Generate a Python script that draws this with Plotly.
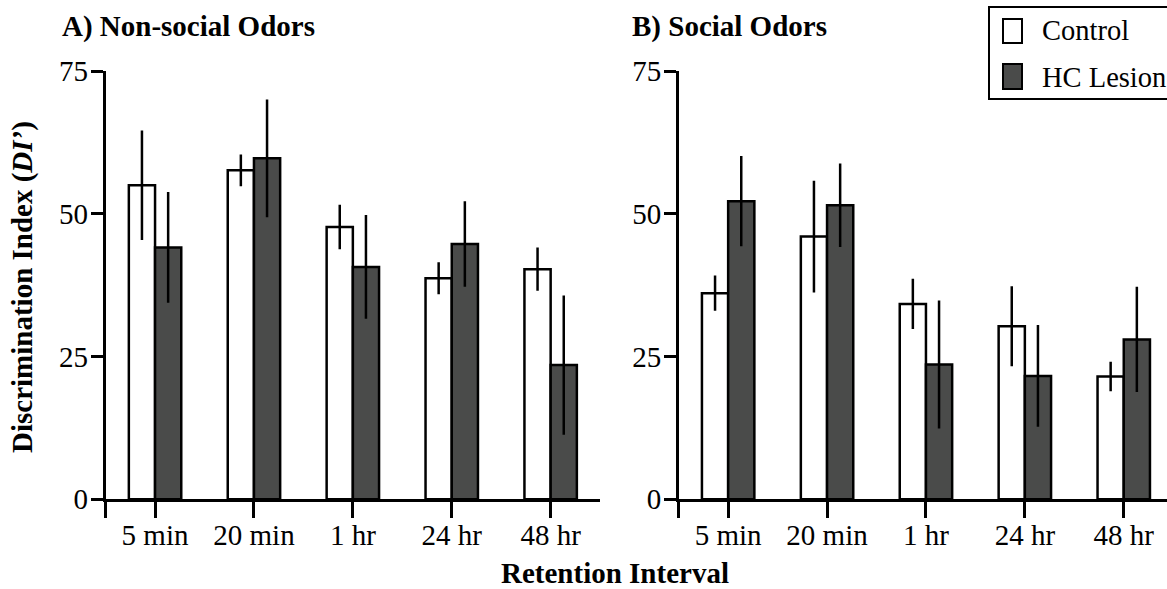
import plotly.graph_objects as go

# Retention intervals tested
intervals = ["5 min", "20 min", "1 hr", "24 hr", "48 hr"]

# Panel A: non-social odors (mean DI' and SEM)
nonsocial_control = [55.0, 57.6, 47.7, 38.7, 40.3]
nonsocial_control_err = [9.6, 2.8, 3.9, 2.8, 3.8]
nonsocial_lesion = [44.1, 59.7, 40.7, 44.7, 23.5]
nonsocial_lesion_err = [9.7, 10.3, 9.1, 7.5, 12.2]

# Panel B: social odors (mean DI' and SEM)
social_control = [36.1, 46.0, 34.2, 30.3, 21.5]
social_control_err = [3.1, 9.8, 4.4, 7.0, 2.6]
social_lesion = [52.2, 51.5, 23.6, 21.6, 28.0]
social_lesion_err = [7.9, 7.3, 11.2, 8.9, 9.2]

y_ticks = [0, 25, 50, 75]

W, H = 1167, 589
FONT = "Liberation Serif, Times New Roman, serif"
LESION_COLOR = "#4a4b4a"
LW = 2.5


def px(x):
    return x / W


def py(y):
    return 1 - y / H


xpos = list(range(len(intervals)))

fig = go.Figure()


def add_panel(control, control_err, lesion, lesion_err, xa, ya):
    fig.add_trace(go.Bar(
        x=xpos, y=control, name="Control", xaxis=xa, yaxis=ya,
        marker=dict(color="white", line=dict(color="black", width=LW)),
        error_y=dict(type="data", array=control_err, color="black",
                     thickness=LW, width=0),
        showlegend=False,
    ))
    fig.add_trace(go.Bar(
        x=xpos, y=lesion, name="HC Lesion", xaxis=xa, yaxis=ya,
        marker=dict(color=LESION_COLOR, line=dict(color="black", width=LW)),
        error_y=dict(type="data", array=lesion_err, color="black",
                     thickness=LW, width=0),
        showlegend=False,
    ))


add_panel(nonsocial_control, nonsocial_control_err,
          nonsocial_lesion, nonsocial_lesion_err, "x", "y")
add_panel(social_control, social_control_err,
          social_lesion, social_lesion_err, "x2", "y2")

tick_font = dict(family=FONT, size=29, color="black")
x_common = dict(
    tickvals=[-0.5] + xpos, ticktext=[""] + intervals,
    showline=True, linewidth=LW, linecolor="black",
    ticks="outside", ticklen=16, tickwidth=LW, tickcolor="black",
    ticklabelstandoff=-8,
    showgrid=False, zeroline=False, tickfont=tick_font, fixedrange=True,
    automargin=False,
)
y_common = dict(
    range=[0, 75], tickvals=y_ticks,
    showline=True, linewidth=LW, linecolor="black",
    ticks="outside", ticklen=12, tickwidth=LW, tickcolor="black",
    ticklabelstandoff=-3,
    showgrid=False, zeroline=False, tickfont=tick_font, fixedrange=True,
    domain=[py(499.3), py(71)], automargin=False,
)

unit = (600.1 - 105.6) / 5.0
right_end = -0.5 + (W - 678.7) / unit

fig.update_layout(
    width=W, height=H,
    margin=dict(l=0, r=0, t=0, b=0, pad=0, autoexpand=False),
    paper_bgcolor="white", plot_bgcolor="white",
    barmode="group", bargap=0.47, bargroupgap=0,
    font=dict(family=FONT, color="black"),
    showlegend=False,
    xaxis=dict(domain=[px(105.6), px(600.1)], range=[-0.5, 4.5],
               anchor="y", **x_common),
    yaxis=dict(anchor="x", **y_common),
    xaxis2=dict(domain=[px(678.7), 1.0], range=[-0.5, right_end],
                anchor="y2", **x_common),
    yaxis2=dict(anchor="x2", **y_common),
)

title_font = dict(family=FONT, size=29, color="black")
annotations = [
    dict(text="<b>A) Non-social Odors</b>", x=px(60), y=py(27),
         xanchor="left", yanchor="middle", font=title_font),
    dict(text="<b>B) Social Odors</b>", x=px(630), y=py(27),
         xanchor="left", yanchor="middle", font=title_font),
    dict(text="<b>Discrimination Index (<i>DI’</i>)</b>", x=px(22), y=py(287),
         xanchor="center", yanchor="middle", textangle=-90, font=title_font),
    dict(text="<b>Retention Interval</b>", x=px(615), y=py(573),
         xanchor="center", yanchor="middle", font=title_font),
    dict(text="Control", x=px(1040), y=py(31), xanchor="left",
         yanchor="middle", font=dict(family=FONT, size=28.5, color="black")),
    dict(text="HC Lesion", x=px(1040), y=py(77), xanchor="left",
         yanchor="middle", font=dict(family=FONT, size=28.5, color="black")),
]
for a in annotations:
    a.update(xref="paper", yref="paper", showarrow=False)
fig.update_layout(annotations=annotations)

# Legend box and swatches
shapes = [
    dict(type="rect", x0=px(989), x1=px(1185), y0=py(99), y1=py(7),
         line=dict(color="black", width=2), fillcolor="rgba(0,0,0,0)"),
    dict(type="rect", x0=px(1003), x1=px(1022), y0=py(43), y1=py(19),
         line=dict(color="black", width=2), fillcolor="white"),
    dict(type="rect", x0=px(1003), x1=px(1022), y0=py(89), y1=py(64),
         line=dict(color="black", width=2), fillcolor=LESION_COLOR),
]
for s in shapes:
    s.update(xref="paper", yref="paper", layer="above")
fig.update_layout(shapes=shapes)

fig.write_html("out.html")
